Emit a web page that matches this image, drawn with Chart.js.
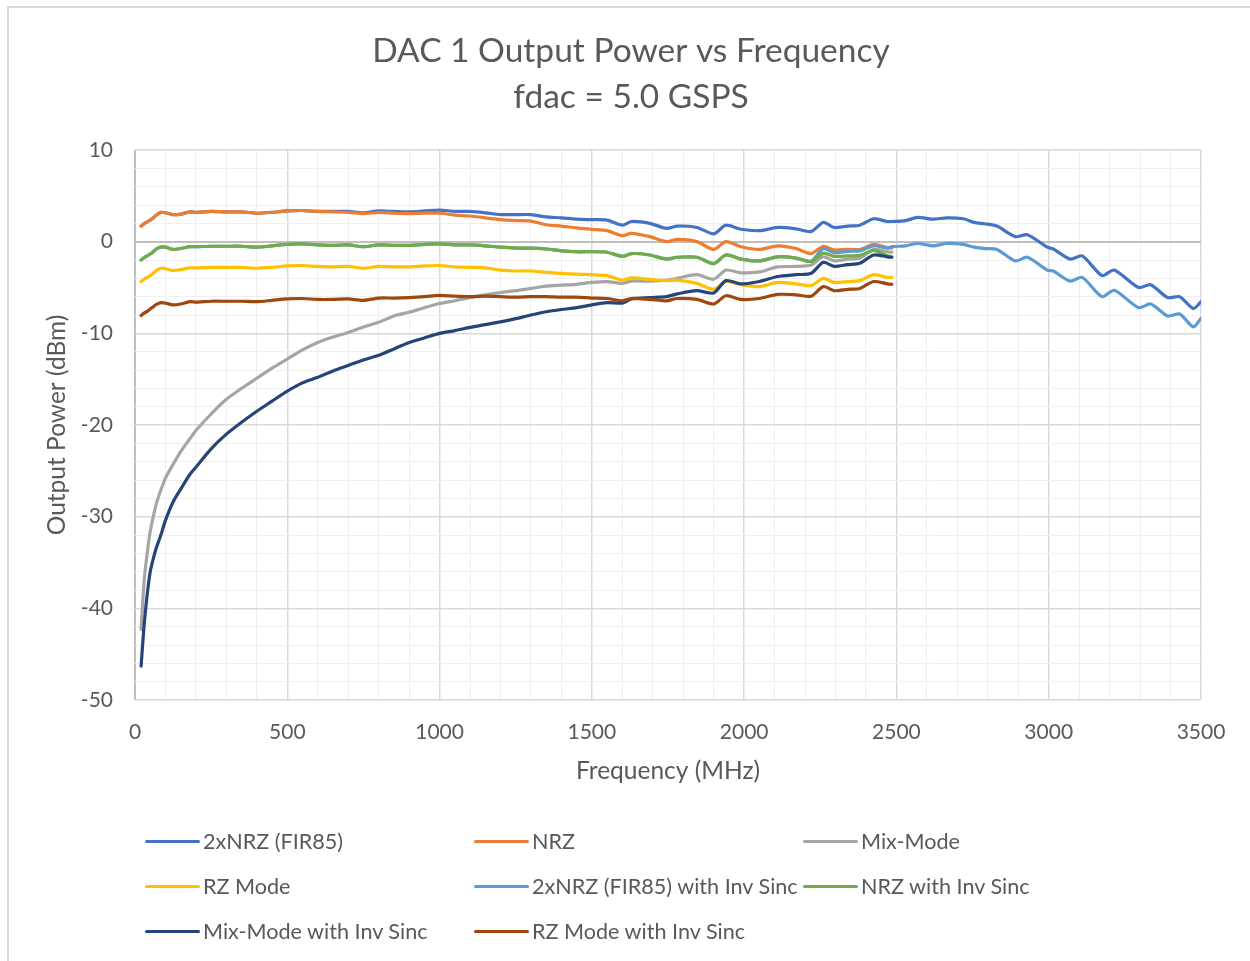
<!DOCTYPE html>
<html><head><meta charset="utf-8">
<script src="https://cdn.jsdelivr.net/npm/chart.js@4.4.0/dist/chart.umd.min.js"></script>
<style>
html,body{margin:0;padding:0;background:#fff;}
#wrap{position:relative;width:1250px;height:961px;overflow:hidden;font-family:Lato, sans-serif;}
#frame{position:absolute;left:7px;top:6px;right:-10px;bottom:-10px;border-top:2px solid #d9d9d9;border-left:2px solid #d9d9d9;}
canvas{position:absolute;left:0;top:0;}
.lg{position:absolute;height:26px;display:flex;align-items:center;color:#595959;font-size:21.6px;white-space:nowrap;font-family:Lato, sans-serif;}
.lg i{display:inline-block;width:55px;height:3px;margin-right:3px;border-radius:2px;}
</style></head><body>
<div id="wrap"><div id="frame"></div><canvas id="c" width="1250" height="961"></canvas><div id="legend"></div></div>
<script>
// ---------- data ----------
const titleLines = ["DAC 1 Output Power vs Frequency", "fdac = 5.0 GSPS"];
const xTitle = "Frequency (MHz)";
const yTitle = "Output Power (dBm)";

const freqs = [20,30,40,50,60,70,85,100,125,150,180,200,250,300,350,400,450,500,550,600,
  650,700,750,800,850,900,950,1000,1050,1100,1150,1200,1250,1300,1350,1400,1450,1500,1550,1600,
  1630,1690,1745,1780,1845,1900,1940,1990,2050,2110,2170,2220,2260,2295,2340,2380,2425,2470,2485,
  2530,2570,2620,2665,2720,2755,2790,2830,2890,2930,2995,3015,3070,3110,3175,3215,3295,3335,3390,3430,3475,3500];

const seriesNames = ["2xNRZ (FIR85)", "NRZ", "Mix-Mode", "RZ Mode",
  "2xNRZ (FIR85) with Inv Sinc", "NRZ with Inv Sinc", "Mix-Mode with Inv Sinc", "RZ Mode with Inv Sinc"];
const seriesColors = ["#4472C4", "#ED7D31", "#A5A5A5", "#FFC000", "#5B9BD5", "#70AD47", "#264478", "#9E480E"];

const nrz2x = [1.7,1.95,2.15,2.35,2.6,2.9,3.2,3.15,2.95,3.0,3.25,3.2,3.3,3.25,3.25,3.1,3.2,3.35,3.4,3.3,
  3.3,3.3,3.15,3.35,3.3,3.25,3.35,3.45,3.3,3.3,3.15,2.95,2.95,2.95,2.7,2.6,2.45,2.4,2.35,1.8,
  2.2,2.0,1.45,1.7,1.55,0.85,1.8,1.35,1.2,1.55,1.4,1.1,2.1,1.55,1.7,1.8,2.5,2.2,2.2,
  2.3,2.65,2.45,2.6,2.5,2.1,1.95,1.7,0.55,0.75,-0.6,-0.8,-1.9,-1.55,-3.7,-3.1,-5.0,-4.7,-6.1,-6.0,-7.3,-6.55];
const nrz = [1.7,1.95,2.15,2.35,2.6,2.9,3.2,3.15,2.95,3.0,3.25,3.2,3.3,3.25,3.25,3.1,3.2,3.35,3.4,3.3,
  3.25,3.2,3.05,3.2,3.1,3.05,3.1,3.1,2.9,2.8,2.6,2.4,2.3,2.25,1.85,1.7,1.5,1.35,1.2,0.65,
  0.9,0.55,0.0,0.25,0.0,-0.85,0.0,-0.55,-0.85,-0.45,-0.75,-1.3,-0.5,-0.9,-0.85,-0.85,-0.3,-0.65,-0.7];
const mixMode = [-42.3,-37.0,-34.0,-31.6,-30.0,-28.6,-27.1,-25.8,-24.3,-22.9,-21.5,-20.6,-18.8,-17.2,-16.0,-14.9,-13.8,-12.8,-11.8,-11.0,
  -10.4,-9.9,-9.3,-8.8,-8.1,-7.7,-7.2,-6.75,-6.45,-6.1,-5.8,-5.55,-5.35,-5.1,-4.85,-4.75,-4.65,-4.45,-4.35,-4.55,
  -4.3,-4.3,-4.2,-4.0,-3.6,-4.1,-3.1,-3.4,-3.3,-2.75,-2.7,-2.55,-1.65,-2.1,-1.9,-1.8,-0.85,-1.1,-1.15];
const rzMode = [-4.35,-4.1,-3.9,-3.7,-3.45,-3.15,-2.9,-2.95,-3.15,-3.05,-2.85,-2.85,-2.8,-2.8,-2.8,-2.9,-2.8,-2.65,-2.6,-2.7,
  -2.75,-2.7,-2.9,-2.7,-2.75,-2.75,-2.65,-2.6,-2.75,-2.8,-2.85,-3.1,-3.2,-3.2,-3.35,-3.45,-3.55,-3.6,-3.7,-4.2,
  -3.95,-4.1,-4.25,-4.2,-4.55,-5.2,-4.35,-4.7,-4.9,-4.45,-4.6,-4.8,-4.0,-4.45,-4.35,-4.25,-3.6,-3.9,-3.9];
const nrz2xInv = [-2.0,-1.75,-1.55,-1.35,-1.1,-0.8,-0.6,-0.6,-0.85,-0.75,-0.55,-0.55,-0.5,-0.5,-0.5,-0.6,-0.45,-0.3,-0.25,-0.35,
  -0.4,-0.35,-0.55,-0.35,-0.4,-0.4,-0.3,-0.25,-0.35,-0.35,-0.45,-0.6,-0.7,-0.7,-0.8,-1.0,-1.1,-1.1,-1.15,-1.6,
  -1.3,-1.45,-1.9,-1.7,-1.7,-2.4,-1.45,-1.9,-2.1,-1.65,-1.8,-2.15,-0.75,-1.2,-1.05,-1.0,-0.45,-0.7,-0.55,
  -0.45,-0.2,-0.45,-0.2,-0.3,-0.6,-0.75,-0.85,-2.1,-1.7,-3.1,-3.2,-4.3,-3.9,-6.0,-5.3,-7.2,-6.8,-8.1,-7.9,-9.3,-8.35];
const nrzInv = [-2.0,-1.75,-1.55,-1.35,-1.1,-0.8,-0.6,-0.6,-0.85,-0.75,-0.55,-0.55,-0.5,-0.5,-0.5,-0.6,-0.45,-0.3,-0.25,-0.35,
  -0.4,-0.35,-0.55,-0.35,-0.4,-0.4,-0.3,-0.25,-0.35,-0.35,-0.45,-0.6,-0.7,-0.7,-0.8,-1.0,-1.1,-1.1,-1.15,-1.6,
  -1.3,-1.45,-1.9,-1.7,-1.7,-2.4,-1.45,-1.9,-2.1,-1.65,-1.8,-2.15,-1.25,-1.6,-1.55,-1.5,-0.95,-1.55,-1.65];
const mixModeInv = [-46.3,-41.8,-38.5,-36.0,-34.6,-33.4,-32.0,-30.4,-28.4,-27.0,-25.4,-24.6,-22.6,-21.0,-19.7,-18.5,-17.4,-16.3,-15.4,-14.8,
  -14.1,-13.5,-12.9,-12.4,-11.7,-11.0,-10.5,-10.0,-9.7,-9.35,-9.05,-8.75,-8.4,-8.0,-7.65,-7.4,-7.2,-6.9,-6.65,-6.7,
  -6.25,-6.1,-6.0,-5.7,-5.35,-5.6,-4.25,-4.6,-4.35,-3.8,-3.6,-3.45,-2.25,-2.7,-2.5,-2.35,-1.45,-1.65,-1.7];
const rzModeInv = [-8.05,-7.8,-7.6,-7.35,-7.1,-6.85,-6.65,-6.7,-6.9,-6.8,-6.55,-6.6,-6.5,-6.5,-6.5,-6.55,-6.4,-6.25,-6.2,-6.3,
  -6.3,-6.25,-6.4,-6.15,-6.15,-6.1,-6.0,-5.85,-5.95,-6.0,-5.95,-6.0,-6.05,-6.0,-6.0,-6.05,-6.05,-6.15,-6.2,-6.45,
  -6.2,-6.3,-6.45,-6.2,-6.3,-6.8,-5.9,-6.3,-6.2,-5.75,-5.8,-5.95,-4.9,-5.35,-5.2,-5.1,-4.35,-4.6,-4.65];

const seriesValues = [nrz2x, nrz, mixMode, rzMode, nrz2xInv, nrzInv, mixModeInv, rzModeInv];
const xMin = 0, xMax = 3500, xMinor = 100, xMajor = 500;
const yMin = -50, yMax = 10, yMinor = 2, yMajor = 10;

// ---------- chart ----------
const textColor = '#595959';
const FONT = 'Lato, sans-serif';
Chart.defaults.font.family = FONT;
Chart.defaults.color = textColor;

const datasets = seriesValues.map((vals, i) => ({
  label: seriesNames[i],
  data: vals.map((v, k) => ({x: freqs[k], y: v})),
  borderColor: seriesColors[i],
  backgroundColor: seriesColors[i],
  borderWidth: 3.2,
  pointRadius: 0,
  tension: 0.25,
  borderCapStyle: 'round',
  borderJoinStyle: 'round',
  fill: false,
  order: seriesValues.length - 1 - i
}));

function gridColor(v, major) {
  if (v === 0) return '#bfbfbf';
  return (v % major === 0) ? '#d9d9d9' : '#efefef';
}
function gridWidth(v, major) {
  if (v === 0) return 2;
  return (v % major === 0) ? 1.5 : 1;
}

function build() {
  new Chart(document.getElementById('c'), {
    type: 'line',
    data: {datasets},
    options: {
      responsive: false, animation: false, devicePixelRatio: 1,
      layout: {padding: {left: 61, right: 49, top: 0, bottom: 175}},
      plugins: {
        legend: {display: false},
        tooltip: {enabled: false},
        title: {display: true, text: titleLines, color: textColor,
          font: {size: 33.5, weight: 'normal', lineHeight: '46px', family: FONT},
          padding: {top: 28, bottom: 30}}
      },
      scales: {
        x: {
          type: 'linear', min: xMin, max: xMax,
          afterFit: s => { s.height = 86; },
          ticks: {stepSize: xMinor, maxTicksLimit: 1000, autoSkip: false, maxRotation: 0, padding: 20,
            color: textColor, font: {size: 21},
            callback: v => (v % xMajor === 0 ? String(v) : '')},
          grid: {drawTicks: false,
            color: c => gridColor(c.tick.value, xMajor),
            lineWidth: c => gridWidth(c.tick.value, xMajor)},
          border: {display: false},
          title: {display: true, text: xTitle, color: textColor, font: {size: 24.5}, padding: {top: 0, bottom: 0}}
        },
        y: {
          min: yMin, max: yMax,
          afterFit: s => { s.width = 74; },
          ticks: {stepSize: yMinor, maxTicksLimit: 1000, autoSkip: false, padding: 22,
            color: textColor, font: {size: 21},
            callback: v => (v % yMajor === 0 ? String(v) : '')},
          grid: {drawTicks: false,
            color: c => gridColor(c.tick.value, yMajor),
            lineWidth: c => gridWidth(c.tick.value, yMajor)},
          border: {display: false},
          title: {display: true, text: yTitle, color: textColor, font: {size: 24.5}, padding: {top: -18.7, bottom: 0}}
        }
      }
    }
  });

  // legend (HTML, fixed 3-column grid)
  const lg = document.getElementById('legend');
  seriesNames.forEach((name, i) => {
    const col = i % 3, row = Math.floor(i / 3);
    const d = document.createElement('div');
    d.className = 'lg';
    d.style.left = (145 + col * 329) + 'px';
    d.style.top = (842 - 14 + row * 45) + 'px';
    const sw = document.createElement('i');
    sw.style.background = seriesColors[i];
    d.appendChild(sw);
    d.appendChild(document.createTextNode(name));
    lg.appendChild(d);
  });
}

if (document.fonts && document.fonts.load) {
  Promise.all([document.fonts.load('21px Lato'), document.fonts.load('33px Lato')]).then(build, build);
} else { build(); }
</script>
</body></html>
